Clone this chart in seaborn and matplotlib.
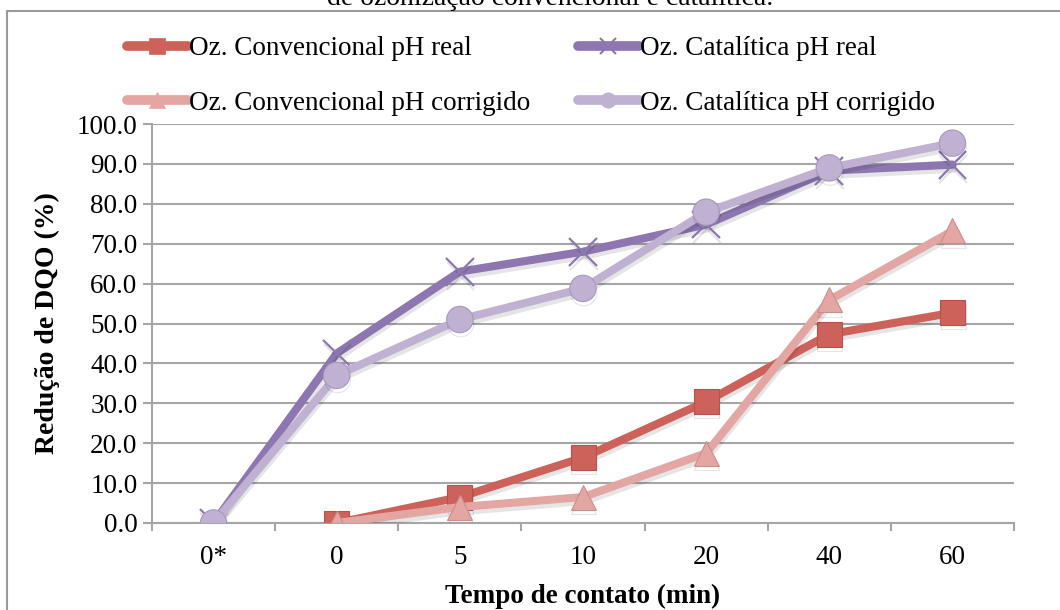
import numpy as np
import pandas as pd
import matplotlib
matplotlib.use("Agg")
import matplotlib.pyplot as plt
import matplotlib.patheffects as pe
from matplotlib.lines import Line2D
import seaborn as sns

# ---- data ----
categories = ["0*", "0", "5", "10", "20", "40", "60"]
conv_real = [np.nan, 0.0, 6.5, 16.4, 30.4, 47.3, 52.7]
cat_real = [0.0, 42.5, 63.0, 68.0, 74.8, 88.3, 89.8]
conv_corr = [np.nan, 0.0, 4.0, 6.5, 17.5, 55.9, 73.2]
cat_corr = [0.0, 37.0, 51.0, 58.8, 77.9, 89.0, 95.2]

series_names = [
    "Oz. Convencional pH real",
    "Oz. Catalítica pH real",
    "Oz. Convencional pH corrigido",
    "Oz. Catalítica pH corrigido",
]
series_values = [conv_real, cat_real, conv_corr, cat_corr]
colors = ["#CD625A", "#8E77B0", "#E3A6A2", "#C0B1D3"]
edge_colors = ["#B9514A", "#7A649C", "#CC8E8A", "#A898BF"]
markers = ["s", "x", "^", "o"]
msizes = [18, 20, 18, 19]

title_text = "de ozonização convencional e catalítica."
xlabel = "Tempo de contato (min)"
ylabel = "Redução de DQO (%)"

sns.set_theme(style="white")
serif = ["Liberation Serif", "DejaVu Serif"]
plt.rcParams["font.family"] = serif
plt.rcParams["text.color"] = "black"
plt.rcParams["axes.labelcolor"] = "black"

df = pd.DataFrame({
    "tempo": pd.Categorical(np.tile(categories, len(series_names)), categories=categories),
    "serie": np.repeat(series_names, len(categories)),
    "valor": np.concatenate([np.asarray(v, dtype=float) for v in series_values]),
})
df["pos"] = df["tempo"].cat.codes

fig = plt.figure(figsize=(10.6, 6.1), dpi=100)
ax = fig.add_axes([152 / 1060, 1 - 523 / 610, (1014 - 152) / 1060, (523 - 124) / 610])

line_fx = [pe.SimpleLineShadow(offset=(0.5, -3), shadow_color="black", alpha=0.10), pe.Normal()]

for name, col, ec, mk, ms in zip(series_names, colors, edge_colors, markers, msizes):
    sub = df[df["serie"] == name].dropna(subset=["valor"])
    kw = dict(marker=mk, markersize=ms, linewidth=5.8, color=col,
              markeredgecolor=ec if mk != "x" else col,
              markeredgewidth=0.8 if mk != "x" else 1.6,
              path_effects=line_fx, legend=False, zorder=3)
    sns.lineplot(data=sub, x="pos", y="valor", ax=ax, sort=False, estimator=None, **kw)

grid_c = "#A6A6A6"
ax.set_xlim(-0.5, len(categories) - 0.5)
ax.set_ylim(0, 100)
ax.set_yticks(np.arange(0, 101, 10))
ax.set_yticklabels([f"{v:.1f}" for v in np.arange(0, 101, 10)])
ax.set_xticks(range(len(categories)))
ax.set_xticklabels(categories)
ax.set_xticks(np.arange(-0.5, len(categories), 1.0), minor=True)
ax.yaxis.grid(True, color=grid_c, linewidth=1.5)
ax.xaxis.grid(False)
ax.set_axisbelow(True)
for s in ["top", "right"]:
    ax.spines[s].set_visible(False)
for s in ["left", "bottom"]:
    ax.spines[s].set_color(grid_c)
    ax.spines[s].set_linewidth(1.5)
ax.tick_params(axis="y", which="major", left=True, length=6.5, width=1.5, color=grid_c,
               labelsize=19.5, pad=4, labelcolor="black")
ax.tick_params(axis="x", which="major", bottom=False, length=0, labelsize=19.5, pad=16, labelcolor="black")
ax.tick_params(axis="x", which="minor", bottom=True, length=6, width=1.5, color=grid_c)

ax.set_xlabel(xlabel, fontsize=19.5, fontweight="bold", labelpad=10, color="black")
ax.set_ylabel(ylabel, fontsize=20, fontweight="bold", labelpad=12, color="black")
ax.patch.set_alpha(0)

# legend
handles = []
for name, col, ec, mk in zip(series_names, colors, edge_colors, markers):
    handles.append(Line2D([0], [0], color=col, linewidth=7, marker=mk, markersize=11,
                          markeredgecolor=col, markeredgewidth=1.5 if mk == "x" else 0.5,
                          solid_capstyle="round"))
order = [0, 2, 1, 3]
leg = fig.legend([handles[i] for i in order], [series_names[i] for i in order],
                 ncol=2, loc="upper left", bbox_to_anchor=(127 / 1060, 1 - 36 / 610),
                 frameon=False, fontsize=19.5, handlelength=2.25, handletextpad=0.05,
                 columnspacing=1.75, labelspacing=1.1, borderpad=0, borderaxespad=0)
for t in leg.get_texts():
    t.set_color("black")

# chart border (top and left visible)
fig.add_artist(Line2D([7 / 1060, 7 / 1060], [0, 1 - 11 / 610], transform=fig.transFigure,
                      color="#9A9A9A", linewidth=1.5))
fig.add_artist(Line2D([7 / 1060, 1.0], [1 - 11 / 610, 1 - 11 / 610], transform=fig.transFigure,
                      color="#9A9A9A", linewidth=1.5))

fig.text(550 / 1060, 1 - 5 / 610, title_text, ha="center", va="baseline", fontsize=20, color="black")

fig.savefig("out.png", dpi=100)
